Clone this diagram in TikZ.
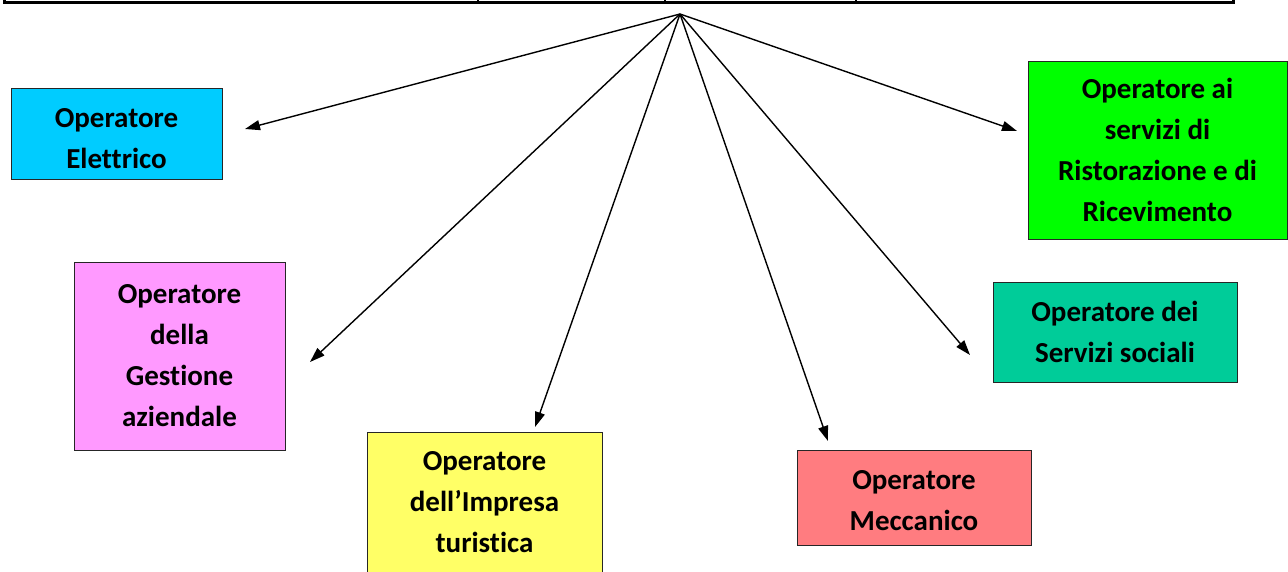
\documentclass[tikz,border=0pt]{standalone}
\usepackage{fontspec}
\setmainfont{Carlito}[Ligatures={NoCommon}]
\usetikzlibrary{arrows.meta}

\definecolor{elet}{RGB}{0,204,255}
\definecolor{gest}{RGB}{255,153,255}
\definecolor{impr}{RGB}{255,255,102}
\definecolor{mecc}{RGB}{255,124,128}
\definecolor{soci}{RGB}{0,204,153}
\definecolor{rist}{RGB}{0,255,0}

\begin{document}
\begin{tikzpicture}[x=1pt, y=-1pt,
  box/.style={draw=black!85, line width=0.9pt, align=center, inner sep=0pt,
              font=\bfseries\fontsize{29}{41}\selectfont},
  link/.style={line width=1.4pt, -{Triangle[length=15pt, width=10pt]}}]
\useasboundingbox (0,0) rectangle (1288,571);

% bottom edge of the table above
\draw[line width=3pt] (4,2.5) -- (1233,2.5);
\draw[line width=3pt] (4,0) -- (4,4);
\draw[line width=3pt] (1233,0) -- (1233,4);
\draw[line width=1.5pt] (478,0) -- (478,4);
\draw[line width=1.5pt] (665,0) -- (665,4);
\draw[line width=1.5pt] (856,0) -- (856,4);

\node[box, fill=elet, minimum width=211pt, minimum height=91pt] (1) at (116.5,133.5) {\rule{0pt}{30pt}Operatore\\Elettrico};
\node[box, fill=gest, minimum width=211pt, minimum height=188pt] (2) at (179.5,356) {Operatore\\della\\Gestione\\aziendale};
\node[box, fill=impr, minimum width=235pt, minimum height=148pt] (3) at (484.5,506) {Operatore\\dell’Impresa\\turistica\rule[-9pt]{0pt}{9pt}};
\node[box, fill=mecc, minimum width=234pt, minimum height=95pt] (4) at (914,497.5) {\rule{0pt}{26pt}Operatore\\Meccanico};
\node[box, fill=soci, minimum width=244pt, minimum height=100pt] (5) at (1115,332) {Operatore dei\\Servizi sociali};
\node[box, fill=rist, minimum width=259pt, minimum height=178pt] (6) at (1157.5,150) {Operatore ai\\servizi di\\Ristorazione e di\\Ricevimento};

\coordinate (0) at (680,14);
\coordinate (t1) at (245,129);
\coordinate (t2) at (310,362);
\coordinate (t3) at (535,427);
\coordinate (t4) at (828,441);
\coordinate (t5) at (970,355);
\coordinate (t6) at (1017,131);

\foreach \t in {t1,t2,t3,t4,t5,t6}
  \draw[link] (0) -- (\t);
\end{tikzpicture}
\end{document}
